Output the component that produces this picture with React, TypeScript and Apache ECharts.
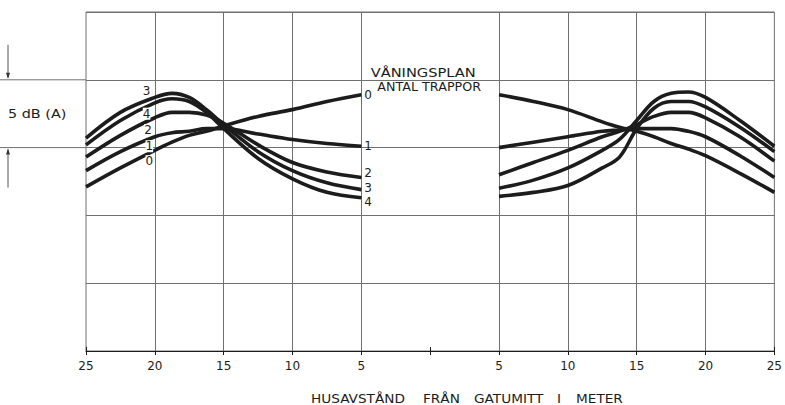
import React, { useEffect, useRef } from "react";
import * as echarts from "echarts";

// distances (m) from street centre, left half read from 25 → 5, right half 5 → 25
const leftDistances = [25, 22.5, 20, 18.75, 17.5, 16.25, 15, 12.5, 10, 7.5, 5];
const rightDistances = [5, 7.5, 10, 12.5, 13.75, 15, 16.25, 17.5, 18.75, 20, 22.5, 25];

const floors = ["0", "1", "2", "3", "4"];

// relative level, dB(A)
const left0 = [12.1, 13.5, 14.8, 15.4, 15.9, 16.2, 16.6, 17.3, 17.8, 18.4, 18.9];
const left1 = [13.3, 14.7, 15.8, 16.1, 16.2, 16.4, 16.4, 16.0, 15.6, 15.3, 15.1];
const left2 = [14.3, 15.9, 17.2, 17.6, 17.6, 17.4, 16.8, 15.2, 13.9, 13.2, 12.8];
const left3 = [15.7, 17.6, 18.7, 19.0, 18.7, 17.8, 16.7, 14.7, 13.3, 12.4, 11.9];
const left4 = [15.2, 17.0, 18.3, 18.6, 18.4, 17.6, 16.4, 14.2, 12.7, 11.7, 11.3];

const right0 = [18.9, 18.4, 17.8, 16.9, 16.5, 16.2, 15.8, 15.3, 14.9, 14.4, 13.1, 11.7];
const right1 = [15.0, 15.4, 15.8, 16.2, 16.3, 16.4, 16.4, 16.4, 16.2, 15.8, 14.4, 12.8];
const right2 = [13.0, 13.9, 14.8, 15.8, 16.2, 16.7, 17.3, 17.6, 17.6, 17.2, 15.8, 14.0];
const right3 = [12.0, 12.6, 13.5, 14.8, 15.6, 17.0, 18.4, 19.0, 19.1, 18.7, 17.0, 15.1];
const right4 = [11.4, 11.7, 12.2, 13.5, 14.3, 16.4, 17.9, 18.4, 18.4, 18.0, 16.5, 14.7];

const leftValues = [left0, left1, left2, left3, left4];
const rightValues = [right0, right1, right2, right3, right4];

// floor labels written near the left peaks: [floor, distance, level]
const peakLabels: [string, number, number][] = [
  ["3", 20.6, 19.2],
  ["4", 20.6, 17.5],
  ["2", 20.5, 16.3],
  ["1", 20.4, 15.1],
  ["0", 20.4, 14.0],
];
// vertical nudge (px) of the end labels at 5 m
const endLabelNudge = [0, 0, -4, -2, 4];

const verticalGrid = [-20, -15, -10, -5, 5, 10, 15, 20];
const xTicks = { min: -25, max: 25, interval: 5 };
const yRange = { min: 0, max: 25, interval: 5 };

const xTitleWords = ["HUSAVSTÅND", "FRÅN", "GATUMITT", "I", "METER"];
const xTitleLeft = [311, 423, 474, 557, 576];
const legendTitle1 = "VÅNINGSPLAN";
const legendTitle2 = "ANTAL TRAPPOR";
const scaleText = "5 dB (A)";

const FONT = "DejaVu Sans";
const INK = "#1c1c1c";
const GRID = "#707070";

export default function App() {
  const ref = useRef<HTMLDivElement>(null);

  useEffect(() => {
    if (!ref.current) return;
    const chart = echarts.init(ref.current, undefined, { renderer: "svg" });

    const series: any[] = [];
    floors.forEach((f, k) => {
      series.push({
        type: "line",
        name: f,
        data: leftDistances.map((d, i) => [-d, leftValues[k][i]]),
        smooth: 0.35,
        showSymbol: false,
        symbol: "none",
        lineStyle: { color: INK, width: 3.6 },
        endLabel: {
          show: true,
          formatter: f,
          color: INK,
          fontSize: 12,
          fontFamily: FONT,
          distance: 3,
          offset: [0, endLabelNudge[k]],
        },
        markLine:
          k === 0
            ? {
                symbol: "none",
                silent: true,
                label: { show: false },
                lineStyle: { color: GRID, width: 1, type: "solid" },
                data: verticalGrid.map((x) => ({ xAxis: x })),
              }
            : undefined,
        z: 5,
      });
      series.push({
        type: "line",
        name: f + "r",
        data: rightDistances.map((d, i) => [d, rightValues[k][i]]),
        smooth: 0.35,
        showSymbol: false,
        symbol: "none",
        lineStyle: { color: INK, width: 3.6 },
        z: 5,
      });
    });

    const labelFmt = (v: number) => (v === 0 ? "" : String(Math.abs(v)));

    chart.setOption({
      animation: false,
      backgroundColor: "#ffffff",
      grid: {
        left: 86,
        right: 8,
        top: 12,
        bottom: 54,
        show: true,
        borderColor: GRID,
        borderWidth: 1,
      },
      xAxis: [
        {
          type: "value",
          ...xTicks,
          position: "bottom",
          axisLine: { show: true, lineStyle: { color: INK, width: 1 } },
          axisTick: { show: true, inside: false, length: 4, lineStyle: { color: INK } },
          axisLabel: {
            formatter: labelFmt,
            color: INK,
            fontSize: 12,
            fontFamily: FONT,
            margin: 9,
          },
          splitLine: { show: false },
        },
        {
          type: "value",
          ...xTicks,
          position: "bottom",
          offset: 0,
          axisLine: { show: false },
          axisTick: { show: true, inside: true, length: 4, lineStyle: { color: INK } },
          axisLabel: { show: false },
          splitLine: { show: false },
        },
      ],
      yAxis: {
        type: "value",
        ...yRange,
        axisLine: { show: false },
        axisTick: { show: false },
        axisLabel: { show: false },
        splitLine: { show: true, lineStyle: { color: GRID, width: 1 } },
      },
      series,
    });

    const y20 = chart.convertToPixel({ yAxisIndex: 0 }, 20) as number;
    const y15 = chart.convertToPixel({ yAxisIndex: 0 }, 15) as number;
    const x0 = chart.convertToPixel({ xAxisIndex: 0 }, 0) as number;
    const xL = chart.convertToPixel({ xAxisIndex: 0 }, -25) as number;
    const yB = chart.convertToPixel({ yAxisIndex: 0 }, 0) as number;
    const ax = 8;

    const font = (s: number) => `${s}px "${FONT}"`;

    const graphic: any[] = [
      { type: "line", shape: { x1: 0, y1: y20, x2: xL, y2: y20 }, style: { stroke: GRID, lineWidth: 1 } },
      { type: "line", shape: { x1: 0, y1: y15, x2: xL, y2: y15 }, style: { stroke: GRID, lineWidth: 1 } },
      { type: "line", shape: { x1: ax, y1: y20 - 35, x2: ax, y2: y20 - 2 }, style: { stroke: "#555", lineWidth: 1 } },
      { type: "polygon", shape: { points: [[ax - 2, y20 - 7], [ax + 2, y20 - 7], [ax, y20 - 1]] }, style: { fill: "#333" } },
      { type: "line", shape: { x1: ax, y1: y15 + 2, x2: ax, y2: y15 + 40 }, style: { stroke: "#555", lineWidth: 1 } },
      { type: "polygon", shape: { points: [[ax - 2, y15 + 7], [ax + 2, y15 + 7], [ax, y15 + 1]] }, style: { fill: "#333" } },
      {
        type: "text",
        x: 8,
        y: (y20 + y15) / 2,
        scaleX: 1.2,
        style: { text: scaleText, fill: INK, font: font(12), textVerticalAlign: "middle" },
      },
      {
        type: "text",
        x: x0 - 7,
        y: y20 - 7,
        scaleX: 1.22,
        style: { text: legendTitle1, fill: INK, font: font(12), textAlign: "center", textVerticalAlign: "middle" },
      },
      {
        type: "text",
        x: x0 - 1,
        y: y20 + 7,
        scaleX: 1.06,
        style: { text: legendTitle2, fill: INK, font: font(12), textAlign: "center", textVerticalAlign: "middle" },
      },
    ];

    xTitleWords.forEach((w, i) => {
      graphic.push({
        type: "text",
        x: xTitleLeft[i],
        y: yB + 48,
        scaleX: 1.05,
        style: { text: w, fill: INK, font: font(13), textVerticalAlign: "middle" },
      });
    });

    peakLabels.forEach(([t, d, v]) => {
      const p = chart.convertToPixel({ xAxisIndex: 0, yAxisIndex: 0 }, [-d, v]) as number[];
      graphic.push({
        type: "text",
        x: p[0],
        y: p[1],
        style: {
          text: t,
          fill: INK,
          font: font(12),
          textAlign: "center",
          textVerticalAlign: "middle",
          backgroundColor: "#ffffff",
        },
        z: 10,
      });
    });

    chart.setOption({ graphic });

    return () => chart.dispose();
  }, []);

  return (
    <div
      ref={ref}
      style={{ position: "fixed", left: 0, top: 0, width: 785, height: 405, background: "#fff" }}
    />
  );
}
